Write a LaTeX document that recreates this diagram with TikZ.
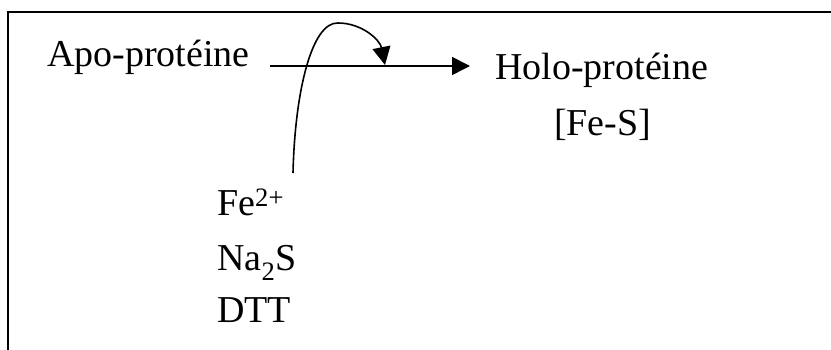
\documentclass[tikz,border=0pt]{standalone}
\usepackage{fontspec}
\setmainfont{Liberation Serif}
\usetikzlibrary{arrows.meta}
\tikzset{
  lbl/.style={inner sep=0pt, anchor=base west, font=\fontsize{38}{45}\selectfont},
  conn/.style={line width=1.6pt, -{Triangle[length=18pt,width=18pt]}},
  frame/.style={line width=2pt}
}
\begin{document}
\begin{tikzpicture}[x=1pt,y=1pt]
\useasboundingbox (0,0) rectangle (831,-350);
\draw[frame] (8,-352) -- (8,-12) -- (835,-12);
\node[lbl] (apo) at (47,-67) {Apo-protéine};
\node[lbl] (holo) at (495,-80) {Holo-protéine};
\node[lbl] (fes) at (554,-136) {[Fe-S]};
\node[lbl] (fe) at (217,-216) {Fe\textsuperscript{2+}};
\node[lbl] (na) at (217,-271) {Na\textsubscript{2}S};
\node[lbl] (dtt) at (217,-323) {DTT};
\coordinate (rs) at (270,-66);
\coordinate (re) at (470,-66);
\coordinate (cs) at (293,-173);
\coordinate (ctop) at (338,-23);
\coordinate (ce) at (385,-65);
\draw[conn] (rs) -- (re);
\draw[conn] (cs) .. controls (295,-90) and (312,-22) .. (ctop)
  .. controls (362,-23) and (380,-40) .. (ce);
\end{tikzpicture}
\end{document}
